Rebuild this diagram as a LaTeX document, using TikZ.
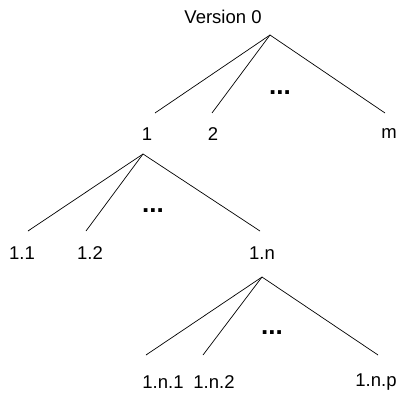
\documentclass[tikz,border=0pt]{standalone}
\usepackage{fontspec}
\setmainfont{Liberation Sans}
\begin{document}
\begin{tikzpicture}[x=1pt,y=-1pt,
  lbl/.style={inner sep=0pt,font=\fontsize{18.5}{22}\selectfont},
  gap/.style={inner sep=0pt,font=\fontsize{26}{30}\selectfont\bfseries},
  branch/.style={line width=0.7pt,black}]
\useasboundingbox (0,0) rectangle (403,398);

% root
\node[lbl] (v0) at (223,17) {Version 0};
\coordinate (r0) at (270,35);
\coordinate (e1) at (155,113);
\coordinate (e2) at (212,113);
\coordinate (em) at (385,113);
\draw[branch] (r0) -- (e1);
\draw[branch] (r0) -- (e2);
\draw[branch] (r0) -- (em);
\node[gap] (d0) at (280,93) {...};
\node[lbl] (n1) at (147,134) {1};
\node[lbl] (n2) at (213,134) {2};
\node[lbl] (nm) at (389,134) {m};

% level 1
\coordinate (r1) at (143,154);
\coordinate (e11) at (28,231);
\coordinate (e12) at (86,231);
\coordinate (e1n) at (260,231);
\draw[branch] (r1) -- (e11);
\draw[branch] (r1) -- (e12);
\draw[branch] (r1) -- (e1n);
\node[gap] (d1) at (153,211) {...};
\node[lbl] (n11) at (22,253) {1.1};
\node[lbl] (n12) at (90,253) {1.2};
\node[lbl] (n1n) at (262,253) {1.n};

% level 2
\coordinate (r2) at (262,277);
\coordinate (e1n1) at (146,355);
\coordinate (e1n2) at (203,355);
\coordinate (e1np) at (378,355);
\draw[branch] (r2) -- (e1n1);
\draw[branch] (r2) -- (e1n2);
\draw[branch] (r2) -- (e1np);
\node[gap] (d2) at (272,333) {...};
\node[lbl] (n1n1) at (163,382) {1.n.1};
\node[lbl] (n1n2) at (214,382) {1.n.2};
\node[lbl] (n1np) at (376,382) {1.n.p};
\end{tikzpicture}
\end{document}
